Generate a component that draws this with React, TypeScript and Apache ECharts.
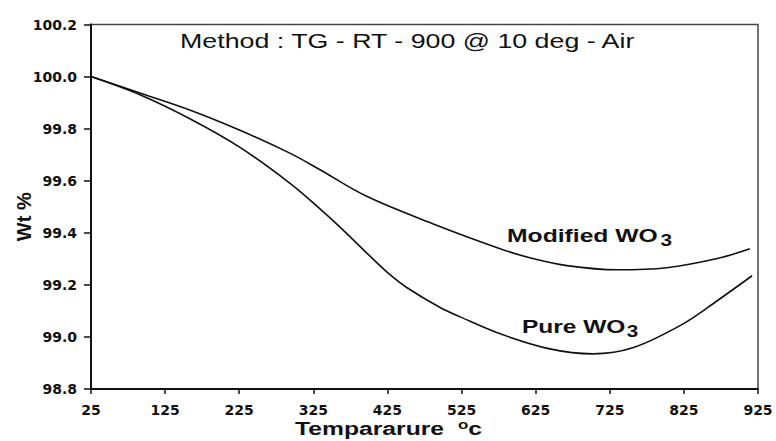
import React, { useEffect, useRef } from "react";
import * as echarts from "echarts";

const pureTemp = [25, 91, 159, 226, 294, 334, 361, 406, 428, 451, 496, 523, 577, 644, 702, 756, 824, 870, 917];
const pureWt = [100.0, 99.93, 99.837, 99.728, 99.589, 99.492, 99.422, 99.298, 99.24, 99.19, 99.113, 99.077, 99.012, 98.954, 98.935, 98.958, 99.05, 99.139, 99.235];
const modTemp = [25, 91, 159, 226, 294, 334, 397, 486, 577, 617, 667, 735, 802, 870, 914];
const modWt = [100.0, 99.937, 99.871, 99.794, 99.705, 99.642, 99.54, 99.435, 99.339, 99.304, 99.274, 99.258, 99.266, 99.301, 99.339];
const xTicks = [25, 125, 225, 325, 425, 525, 625, 725, 825, 925];
const yTicks = [98.8, 99.0, 99.2, 99.4, 99.6, 99.8, 100.0, 100.2];

const FONT = "'Liberation Sans', Arial, sans-serif";
const TICKFONT = "'DejaVu Sans', sans-serif";

export default function App() {
  const ref = useRef<HTMLDivElement>(null);
  useEffect(() => {
    const chart = echarts.init(ref.current!, null, { renderer: "svg" });
    const toPairs = (xs: number[], ys: number[]) => xs.map((x, i) => [x, ys[i]]);
    chart.setOption({
      animation: false,
      backgroundColor: "#fff",
      grid: {
        left: 91,
        right: 18,
        top: 24.5,
        bottom: 52,
        show: true,
        borderColor: "#444",
        borderWidth: 1.5,
        outerBoundsMode: "none",
        containLabel: false,
      },
      xAxis: {
        type: "value",
        min: xTicks[0],
        max: xTicks[xTicks.length - 1],
        interval: 100,
        axisLine: { lineStyle: { color: "#111", width: 2 } },
        axisTick: { show: true, length: 5, lineStyle: { color: "#111", width: 1.5 } },
        axisLabel: {
          fontFamily: TICKFONT,
          fontSize: 14,
          fontWeight: "bold",
          color: "#111",
          margin: 14,
          hideOverlap: false,
          formatter: (v: number) => (xTicks.includes(v) ? String(v) : ""),
        },
        splitLine: { show: false },
      },
      yAxis: {
        type: "value",
        min: 98.8,
        max: 100.2,
        interval: 0.2,
        name: "Wt %",
        nameLocation: "middle",
        nameRotate: 90,
        nameGap: 57,
        nameMoveOverlap: false,
        nameTextStyle: { fontFamily: FONT, fontSize: 20, fontWeight: "bold", color: "#111", padding: [0, 20, 0, 0] },
        axisLine: { lineStyle: { color: "#111", width: 2 } },
        axisTick: { show: true, length: 7, lineStyle: { color: "#111", width: 1.5 } },
        axisLabel: {
          fontFamily: TICKFONT,
          fontSize: 14,
          fontWeight: "bold",
          color: "#111",
          margin: 14,
          formatter: (v: number) => {
            const m = yTicks.find((t) => Math.abs(t - v) < 1e-6);
            return m !== undefined ? m.toFixed(1) : "";
          },
        },
        splitLine: { show: false },
      },
      series: [
        {
          name: "Pure WO3",
          type: "line",
          smooth: 0.35,
          showSymbol: false,
          data: toPairs(pureTemp, pureWt),
          lineStyle: { color: "#111", width: 1.6 },
        },
        {
          name: "Modified WO3",
          type: "line",
          smooth: 0.35,
          showSymbol: false,
          data: toPairs(modTemp, modWt),
          lineStyle: { color: "#111", width: 1.6 },
        },
      ],
      graphic: [
        {
          type: "text",
          x: 180,
          y: 41,
          scaleX: 1.34,
          style: {
            text: "Method : TG - RT - 900 @ 10 deg - Air",
            font: `normal 20px ${FONT}`,
            fill: "#111",
            textVerticalAlign: "middle",
          },
        },
        {
          type: "text",
          x: 507,
          y: 236,
          scaleX: 1.3,
          style: {
            text: "{b|Modified WO}{s|3}",
            textVerticalAlign: "middle",
            rich: {
              b: { fontFamily: FONT, fontSize: 19, fontWeight: "bold", fill: "#111" },
              s: { fontFamily: FONT, fontSize: 16, fontWeight: "bold", fill: "#111", padding: [8, 0, 0, 2] },
            },
          },
        },
        {
          type: "text",
          x: 522,
          y: 327,
          scaleX: 1.29,
          style: {
            text: "{b|Pure WO}{s|3}",
            textVerticalAlign: "middle",
            rich: {
              b: { fontFamily: FONT, fontSize: 19, fontWeight: "bold", fill: "#111" },
              s: { fontFamily: FONT, fontSize: 16, fontWeight: "bold", fill: "#111", padding: [8, 0, 0, 1] },
            },
          },
        },
        {
          type: "text",
          x: 295,
          y: 429,
          scaleX: 1.3,
          style: {
            text: "{b|Tempararure  }{s|o}{b|c}",
            textVerticalAlign: "middle",
            rich: {
              b: { fontFamily: FONT, fontSize: 19, fontWeight: "bold", fill: "#111" },
              s: { fontFamily: FONT, fontSize: 13, fontWeight: "bold", fill: "#111", padding: [0, 0, 9, 0] },
            },
          },
        },
      ],
    });
    return () => chart.dispose();
  }, []);
  return <div ref={ref} style={{ width: 776, height: 441, position: "absolute", left: 0, top: 0 }} />;
}
